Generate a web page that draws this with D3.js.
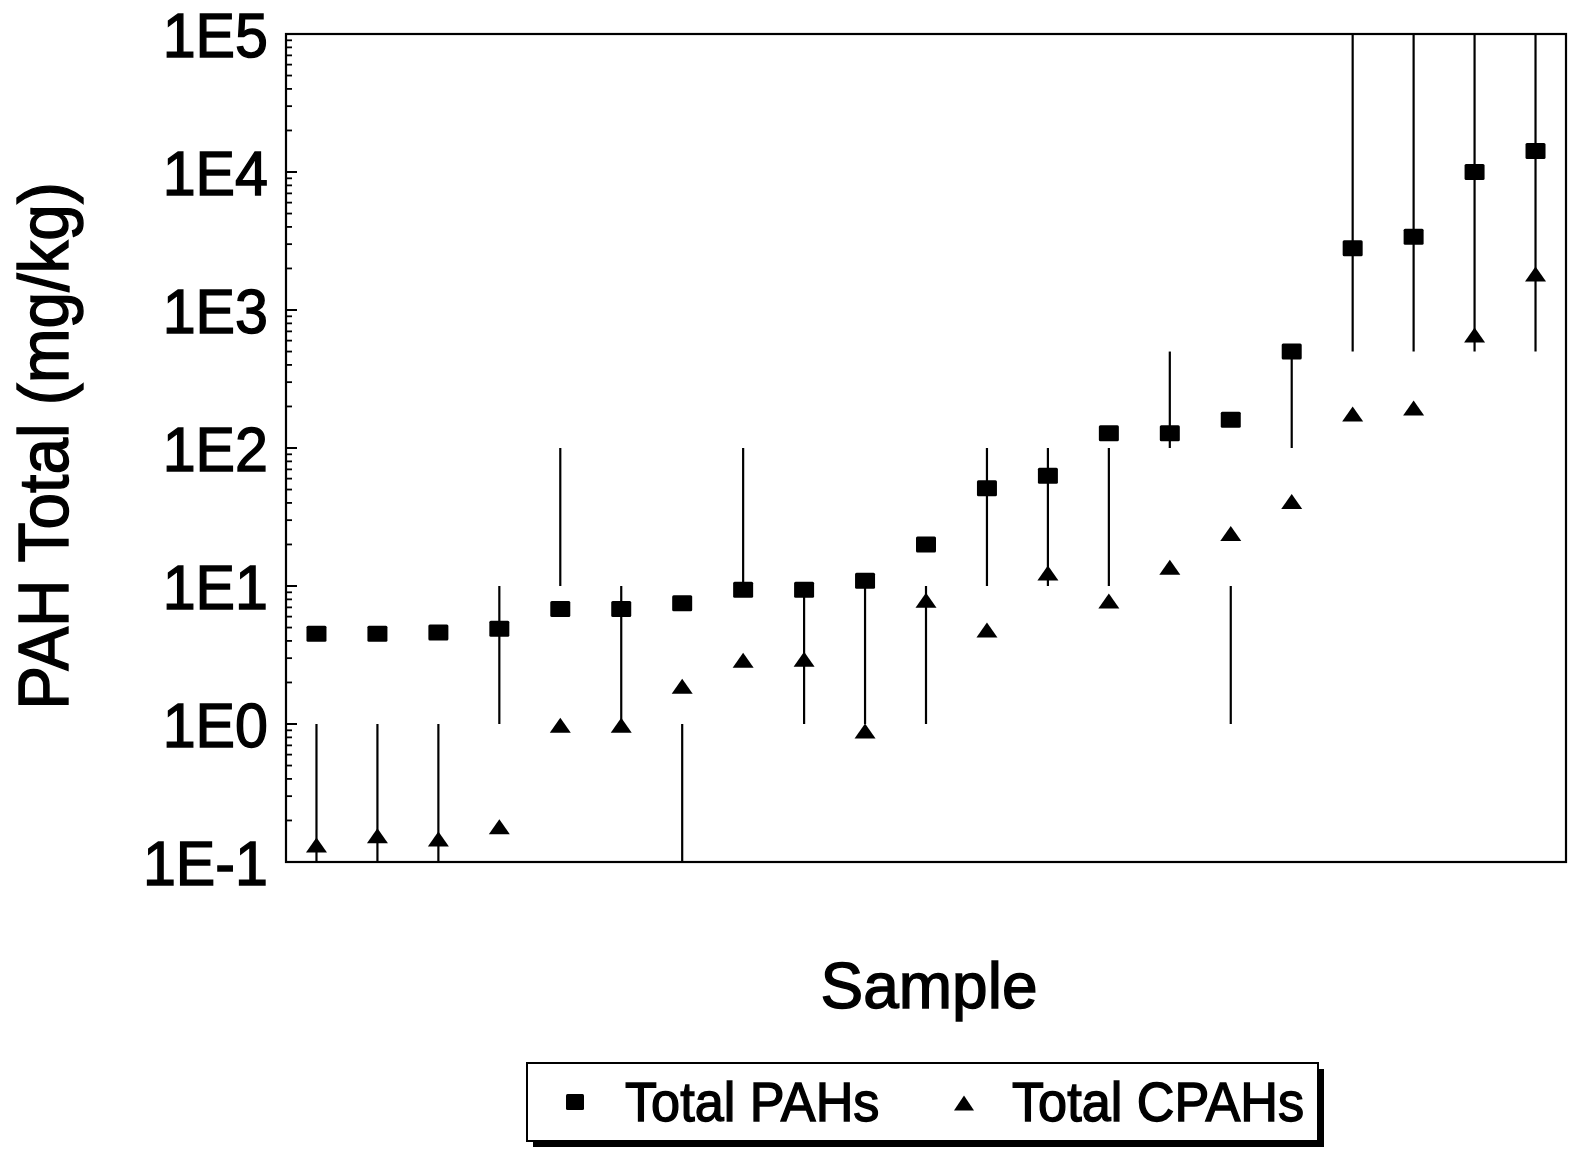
<!DOCTYPE html>
<html>
<head>
<meta charset="utf-8">
<script src="https://cdn.jsdelivr.net/npm/d3@7"></script>
<style>
  html, body { margin: 0; padding: 0; background: #fff; }
  svg { display: block; }
  text { font-family: "Liberation Sans", Arial, Helvetica, sans-serif; fill: #000; stroke: #000; stroke-width: 1.4px; }
</style>
</head>
<body>
<svg id="chart" width="1569" height="1151"></svg>
<script>
// ---- data ----
const samples = d3.range(1, 22);
const totalPAH  = [4.5, 4.5, 4.6, 4.9, 6.8, 6.8, 7.5, 9.4, 9.4, 10.9, 20, 51, 63, 128, 128, 160, 500, 2800, 3400, 10000, 14200];
const totalCPAH = [0.133, 0.155, 0.147, 0.18, 0.98, 0.98, 1.88, 2.9, 2.95, 0.89, 7.9, 4.8, 12.4, 7.8, 13.7, 24, 41, 176, 195, 660, 1820];
const rangeLow  = [0.1, 0.1, 0.1, 1, 10, 1, 0.1, 10, 1, 1, 1, 10, 10, 10, 100, 1, 100, 500, 500, 500, 500];
const rangeHigh = [1, 1, 1, 10, 100, 10, 1, 100, 10, 10, 10, 100, 100, 100, 500, 10, 500, 1e5, 1e5, 1e5, 1e5];
const yTickValues = [1e-1, 1e0, 1e1, 1e2, 1e3, 1e4, 1e5];
const yTickLabels = ["1E-1", "1E0", "1E1", "1E2", "1E3", "1E4", "1E5"];
const legendLabels = ["Total PAHs", "Total CPAHs"];

// ---- layout ----
const svg = d3.select("#chart");
const plot = { left: 286, right: 1566, top: 34, bottom: 862 };

const x = d3.scalePoint().domain(samples).range([plot.left, plot.right]).padding(0.5);
const y = d3.scaleLog().domain([1e-1, 1e5]).range([plot.bottom, plot.top]);

// minor ticks
const minor = [];
for (let e = -1; e < 5; e++) for (let m = 2; m <= 9; m++) minor.push(m * Math.pow(10, e));

const g = svg.append("g");

// minor ticks (inward)
g.selectAll("line.minor").data(minor).enter().append("line")
  .attr("x1", plot.left).attr("x2", plot.left + 6)
  .attr("y1", d => y(d)).attr("y2", d => y(d))
  .attr("stroke", "#000").attr("stroke-width", 1.8);

// major ticks
g.selectAll("line.major").data(yTickValues).enter().append("line")
  .attr("x1", plot.left).attr("x2", plot.left + 11)
  .attr("y1", d => y(d)).attr("y2", d => y(d))
  .attr("stroke", "#000").attr("stroke-width", 2);

// tick labels
g.selectAll("text.tick").data(yTickValues).enter().append("text")
  .attr("text-anchor", "end")
  .attr("font-size", 63)
  .attr("transform", d => `translate(268,${y(d) + 23}) scale(0.94,1)`)
  .text((d, i) => yTickLabels[i]);

// frame
g.append("rect")
  .attr("x", plot.left).attr("y", plot.top)
  .attr("width", plot.right - plot.left).attr("height", plot.bottom - plot.top)
  .attr("fill", "none").attr("stroke", "#000").attr("stroke-width", 2.2);

// range lines
g.selectAll("line.range").data(samples).enter().append("line")
  .attr("x1", d => x(d)).attr("x2", d => x(d))
  .attr("y1", (d, i) => y(rangeLow[i])).attr("y2", (d, i) => y(rangeHigh[i]))
  .attr("stroke", "#000").attr("stroke-width", 2.2);

// squares (Total PAHs)
const sqW = 20, sqH = 16;
g.selectAll("rect.pah").data(samples).enter().append("rect")
  .attr("x", d => x(d) - sqW / 2)
  .attr("y", (d, i) => y(totalPAH[i]) - sqH / 2)
  .attr("width", sqW).attr("height", sqH)
  .attr("rx", 1.5)
  .attr("fill", "#000");

// triangles (Total CPAHs)
const triW = 21, triH = 15;
const triPath = (cx, cy, w, h) => `M${cx},${cy - h / 2}L${cx + w / 2},${cy + h / 2}L${cx - w / 2},${cy + h / 2}Z`;
g.selectAll("path.cpah").data(samples).enter().append("path")
  .attr("d", (d, i) => triPath(x(d), y(totalCPAH[i]), triW, triH))
  .attr("fill", "#000");

// axis titles
svg.append("text")
  .attr("text-anchor", "middle")
  .attr("font-size", 70)
  .attr("transform", "translate(68,446) rotate(-90) scale(0.94,1)")
  .text("PAH Total (mg/kg)");

svg.append("text")
  .attr("text-anchor", "middle")
  .attr("font-size", 64)
  .attr("x", 929).attr("y", 1008)
  .text("Sample");

// legend
const lg = svg.append("g");
lg.append("rect").attr("x", 533).attr("y", 1069).attr("width", 791).attr("height", 78).attr("fill", "#000");
lg.append("rect").attr("x", 527).attr("y", 1063).attr("width", 791).attr("height", 78)
  .attr("fill", "#fff").attr("stroke", "#000").attr("stroke-width", 2);
lg.append("rect").attr("x", 566).attr("y", 1094).attr("width", 18).attr("height", 16).attr("rx", 1.5).attr("fill", "#000");
lg.append("path").attr("d", triPath(964, 1103, 20, 15)).attr("fill", "#000");
lg.append("text").attr("font-size", 55)
  .attr("transform", "translate(625,1121) scale(0.95,1)").text(legendLabels[0]);
lg.append("text").attr("font-size", 55)
  .attr("transform", "translate(1012,1121) scale(0.95,1)").text(legendLabels[1]);
</script>
</body>
</html>
